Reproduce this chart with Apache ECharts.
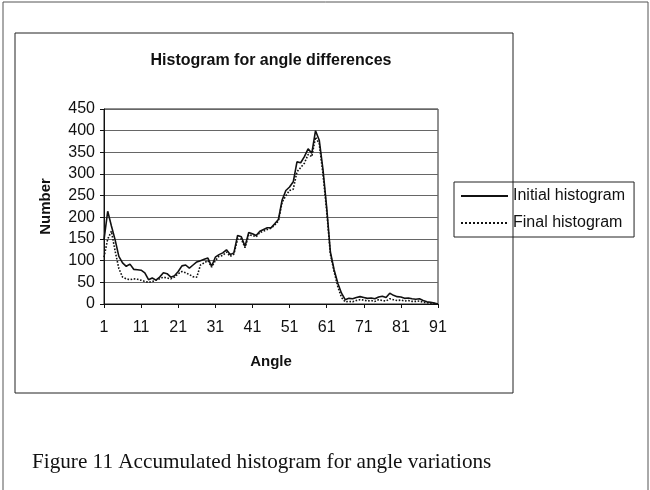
<!DOCTYPE html>
<html>
<head>
<meta charset="utf-8">
<script src="https://cdn.jsdelivr.net/npm/echarts@6/dist/echarts.min.js"></script>
<style>
  html, body { margin: 0; padding: 0; background: #fff; }
  #main { width: 650px; height: 490px; }
</style>
</head>
<body>
<div id="main"></div>
<script>
// angle categories 1..91
const angles = [];
for (let a = 1; a <= 91; a++) angles.push(String(a));

// one value per angle
const initialHist = [
  148, 214, 180, 148, 110, 95, 87, 92, 80, 79,
  78, 72, 56, 60, 55, 62, 72, 70, 62, 65,
  75, 88, 90, 83, 90, 97, 100, 103, 106, 87,
  108, 114, 118, 125, 114, 118, 158, 155, 133, 165,
  162, 158, 168, 172, 176, 176, 185, 195, 240, 262,
  270, 282, 328, 326, 340, 358, 348, 400, 378, 311,
  223, 120, 79, 48, 25, 10, 13, 12, 15, 17,
  15, 13, 14, 12, 16, 18, 15, 25, 20, 17,
  16, 13, 14, 12, 11, 12, 8, 5, 4, 2, 0
];
const finalHist = [
  108, 150, 168, 122, 82, 62, 58, 56, 58, 57,
  55, 52, 50, 52, 55, 58, 62, 60, 58, 62,
  70, 75, 72, 68, 63, 62, 90, 95, 100, 85,
  100, 110, 112, 120, 110, 115, 150, 150, 130, 160,
  158, 155, 165, 168, 172, 175, 182, 192, 235, 250,
  262, 265, 305, 315, 325, 345, 340, 385, 370, 300,
  215, 115, 75, 40, 15, 5, 6, 5, 8, 10,
  9, 7, 8, 6, 10, 8, 7, 12, 10, 8,
  9, 7, 8, 6, 6, 7, 4, 3, 2, 1, 0
];

const sans = 'Liberation Sans, Arial, sans-serif';

const chart = echarts.init(document.getElementById('main'));
const option = {
  backgroundColor: '#fff',
  animation: false,
  title: {
    text: 'Histogram for angle differences',
    left: 266,
    top: 48,
    textAlign: 'center',
    textStyle: { fontFamily: sans, fontSize: 16, fontWeight: 'bold', color: '#111' }
  },
  legend: {
    orient: 'vertical',
    left: 454,
    top: 182,
    padding: [6, 9, 6, 6],
    itemGap: 11,
    itemWidth: 47,
    itemHeight: 14,
    borderColor: '#222',
    borderWidth: 1,
    itemStyle: { opacity: 0 },
    textStyle: { fontFamily: sans, fontSize: 16, color: '#111' },
    data: ['Initial histogram', 'Final histogram']
  },
  grid: {
    left: 104,
    right: 212,
    top: 109,
    bottom: 186,
    containLabel: false,
    show: true,
    borderColor: '#222',
    borderWidth: 1
  },
  xAxis: {
    type: 'category',
    data: angles,
    boundaryGap: false,
    name: 'Angle',
    nameLocation: 'middle',
    nameGap: 50,
    nameTextStyle: { fontFamily: sans, fontSize: 15, fontWeight: 'bold', color: '#111' },
    axisLine: { lineStyle: { color: '#111', width: 1 } },
    axisTick: { interval: 9, length: 4, lineStyle: { color: '#111' } },
    axisLabel: { interval: 9, fontFamily: sans, fontSize: 16, color: '#111', margin: 16 },
    splitLine: { show: false }
  },
  yAxis: {
    type: 'value',
    min: 0,
    max: 450,
    interval: 50,
    name: 'Number',
    nameLocation: 'middle',
    nameGap: 51,
    nameRotate: 90,
    nameTextStyle: { fontFamily: sans, fontSize: 15, fontWeight: 'bold', color: '#111' },
    axisLine: { show: true, lineStyle: { color: '#111', width: 1 } },
    axisTick: { show: true, length: 4, lineStyle: { color: '#111' } },
    axisLabel: { fontFamily: sans, fontSize: 16, color: '#111', margin: 9 },
    splitLine: { lineStyle: { color: '#666', width: 1 } }
  },
  series: [
    {
      name: 'Initial histogram',
      type: 'line',
      data: initialHist,
      symbol: 'none',
      lineStyle: { color: '#111', width: 1.6 },
      itemStyle: { color: '#111' }
    },
    {
      name: 'Final histogram',
      type: 'line',
      data: finalHist,
      symbol: 'none',
      lineStyle: { color: '#111', width: 1.6, type: 'dotted' },
      itemStyle: { color: '#111' }
    }
  ],
  graphic: [
    {
      type: 'rect',
      shape: { x: 3, y: 2, width: 645, height: 492 },
      style: { fill: 'none', stroke: '#555', lineWidth: 1 },
      silent: true
    },
    {
      type: 'rect',
      shape: { x: 15, y: 33, width: 498, height: 360 },
      style: { fill: 'none', stroke: '#222', lineWidth: 1 },
      silent: true
    },
    {
      type: 'text',
      left: 32,
      top: 452,
      style: {
        text: 'Figure 11 Accumulated histogram for angle variations',
        font: '21.2px "Liberation Serif", "Times New Roman", serif',
        fill: '#111'
      }
    }
  ]
};
chart.setOption(option);
</script>
</body>
</html>
